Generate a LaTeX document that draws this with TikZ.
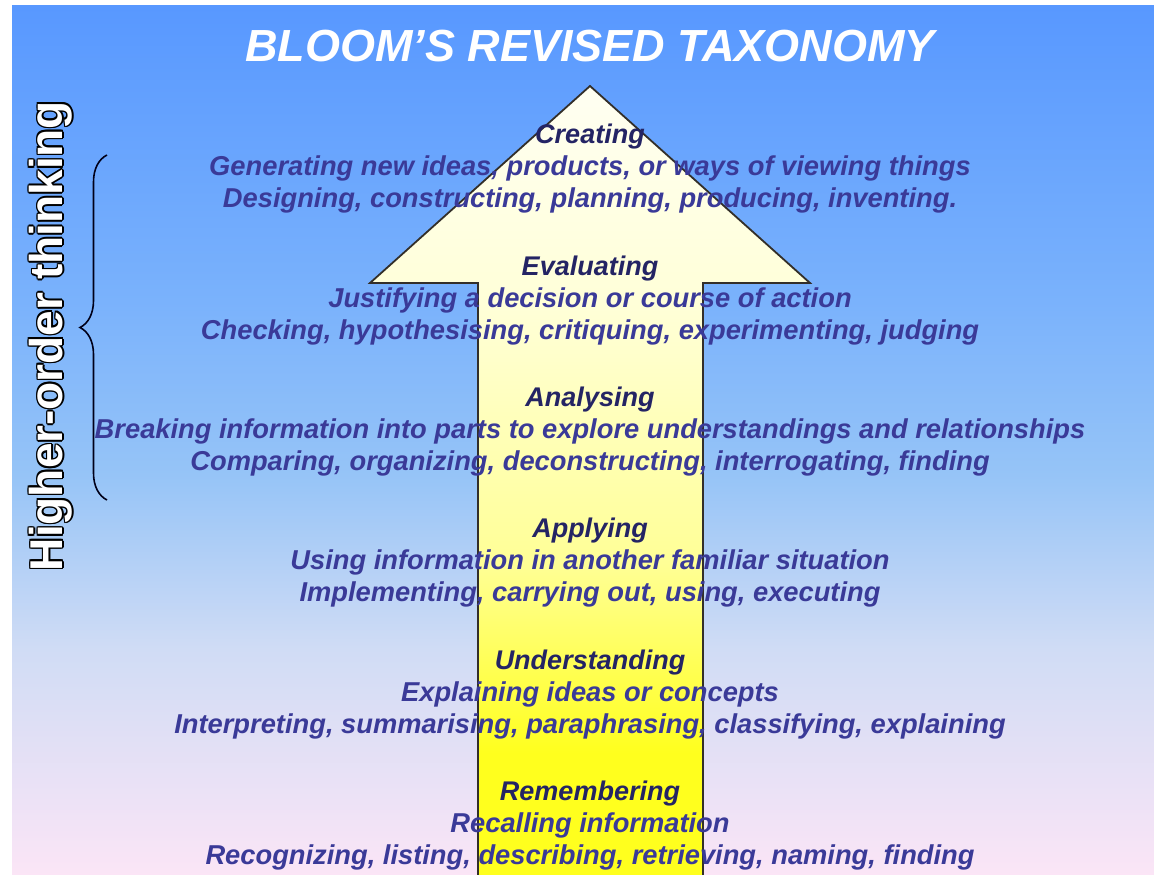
\documentclass[tikz,border=0pt]{standalone}
\usepackage{fontspec}
\setmainfont{Liberation Sans}
\usetikzlibrary{positioning, decorations.pathreplacing}
\definecolor{skytop}{RGB}{88,152,255}
\definecolor{skyhigh}{RGB}{122,178,252}
\definecolor{skymid}{RGB}{150,196,247}
\definecolor{skylow}{RGB}{208,220,245}
\definecolor{skybot}{RGB}{251,229,246}
\definecolor{arrowtop}{RGB}{255,255,242}
\definecolor{arrowhigh}{RGB}{255,255,215}
\definecolor{arrowmid}{RGB}{255,255,150}
\definecolor{arrowlow}{RGB}{255,255,30}
\definecolor{headblue}{RGB}{36,36,100}
\definecolor{lineblue}{RGB}{58,58,152}
\pgfdeclareverticalshading{skyshade}{100bp}{color(0bp)=(skybot); color(25bp)=(skybot); color(38bp)=(skylow); color(48bp)=(skymid); color(58bp)=(skyhigh); color(75bp)=(skytop); color(100bp)=(skytop)}
\pgfdeclareverticalshading{arrowshade}{100bp}{color(0bp)=(arrowlow); color(33bp)=(arrowlow); color(45bp)=(arrowmid); color(61bp)=(arrowhigh); color(75bp)=(arrowtop); color(100bp)=(arrowtop)}
\tikzset{
    level/.style={font=\bfseries\itshape\fontsize{27}{27}\selectfont, text=headblue, inner sep=0pt, text height=20pt, text depth=6pt},
    detail/.style={font=\bfseries\itshape\fontsize{27.3}{27.3}\selectfont, text=lineblue, inner sep=0pt, text height=20pt, text depth=6pt, below=6pt of #1},
    hot/.style={font=\bfseries\fontsize{46}{46}\selectfont, rotate=90, inner sep=0pt},
}
\begin{document}
\begin{tikzpicture}[x=1pt, y=-1pt]
        \useasboundingbox (0,0) rectangle (1154,875);
        \shade[shading=skyshade] (12,6) rectangle (1154,875);
        % the big arrow
        \shade[shading=arrowshade] (590,86) -- (810,283) -- (703,283) -- (703,880) -- (478,880) -- (478,283) -- (370,283) -- cycle;
        \draw[line width=1.8pt, black!85!olive, line join=miter] (478,880) -- (478,283) -- (370,283) -- (590,86) -- (810,283) -- (703,283) -- (703,880);
        \node [font=\bfseries\itshape\fontsize{45}{45}\selectfont, text=white] (title) at (590,46) {BLOOM'S REVISED TAXONOMY};
        % higher-order thinking
        \foreach \dx/\dy [count=\k] in {-1.7/0, 1.7/0, 0/-1.7, 0/1.7, -1.2/-1.2, 1.2/1.2, -1.2/1.2, 1.2/-1.2}
            \node [hot, text=black, xshift=\dx pt, yshift=\dy pt] (hoedge\k) at (51,336) {Higher-order thinking};
        \node [hot, text=white] (hot) at (51,336) {Higher-order thinking};
        \coordinate (hotop) at (107,155);
        \coordinate (hobot) at (107,500);
        \draw [decorate, decoration={brace, amplitude=27pt, aspect=0.5}, line width=1.6pt, black!90!blue] (hobot) -- (hotop);
        % levels
        \node [level] (creating) at (590,136) {Creating};
        \node [detail=creating] (creating1) {Generating new ideas, products, or ways of viewing things};
        \node [detail=creating1] (creating2) {Designing, constructing, planning, producing, inventing.};
        \node [level] (evaluating) at (590,268) {Evaluating};
        \node [detail=evaluating] (evaluating1) {Justifying a decision or course of action};
        \node [detail=evaluating1] (evaluating2) {Checking, hypothesising, critiquing, experimenting, judging};
        \node [level] (analysing) at (590,399) {Analysing};
        \node [detail=analysing] (analysing1) {Breaking information into parts to explore understandings and relationships};
        \node [detail=analysing1] (analysing2) {Comparing, organizing, deconstructing, interrogating, finding};
        \node [level] (applying) at (590,530) {Applying};
        \node [detail=applying] (applying1) {Using information in another familiar situation};
        \node [detail=applying1] (applying2) {Implementing, carrying out, using, executing};
        \node [level] (understanding) at (590,662) {Understanding};
        \node [detail=understanding] (understanding1) {Explaining ideas or concepts};
        \node [detail=understanding1] (understanding2) {Interpreting, summarising, paraphrasing, classifying, explaining};
        \node [level] (remembering) at (590,793) {Remembering};
        \node [detail=remembering] (remembering1) {Recalling information};
        \node [detail=remembering1] (remembering2) {Recognizing, listing, describing, retrieving, naming, finding};
    \end{tikzpicture}
\end{document}
